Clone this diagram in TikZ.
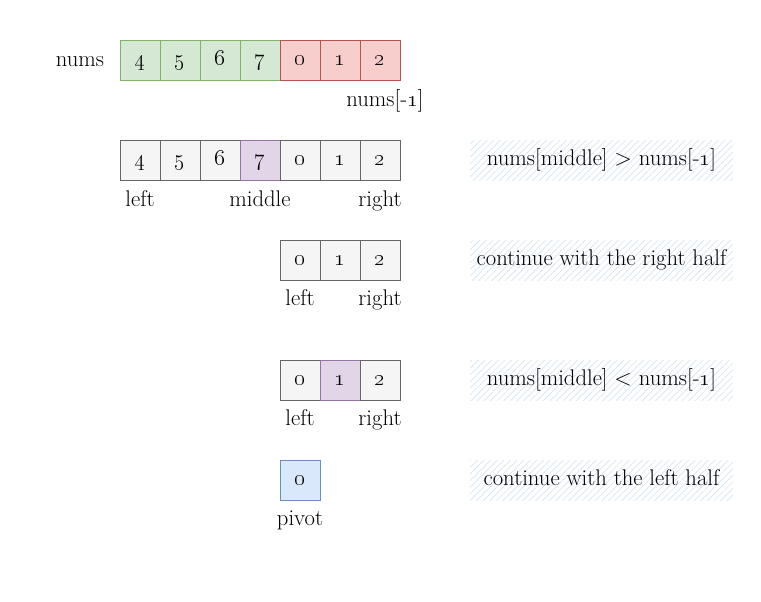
\documentclass[tikz,border=0pt]{standalone}
\usepackage{amsmath}
\usepackage{xcolor}
\usetikzlibrary{patterns.meta}

\definecolor{greenfill}{HTML}{D5E8D4}
\definecolor{greenline}{HTML}{82B366}
\definecolor{redfill}{HTML}{F8CECC}
\definecolor{redline}{HTML}{B85450}
\definecolor{greyfill}{HTML}{F5F5F5}
\definecolor{greyline}{HTML}{666666}
\definecolor{purplefill}{HTML}{E1D5E7}
\definecolor{purpleline}{HTML}{9673A6}
\definecolor{bluefill}{HTML}{DAE8FC}
\definecolor{blueline}{HTML}{6C8EBF}
\definecolor{hatch}{HTML}{D4E3F7}

\newcommand{\od}[1]{\oldstylenums{#1}}

\begin{document}
\begin{tikzpicture}[x=0.75pt, y=-0.75pt,
  every node/.style={font=\fontsize{17}{20}\selectfont, text height=2.1ex, text depth=0.2ex},
  cell/.style={draw, line width=0.75pt, minimum width=30pt, minimum height=30pt, inner sep=0pt},
  grn/.style={cell, fill=greenfill, draw=greenline},
  rd/.style={cell, fill=redfill, draw=redline},
  gry/.style={cell, fill=greyfill, draw=greyline},
  prp/.style={cell, fill=purplefill, draw=purpleline},
  blu/.style={cell, fill=bluefill, draw=blueline},
  note/.style={minimum width=197pt, minimum height=30pt, inner sep=0pt,
    pattern={Lines[angle=45, distance=3.5pt, line width=0.5pt]}, pattern color=hatch}]
\useasboundingbox (0,0) rectangle (761,601);

% row 1: the array
\node (numslbl) at (80,61) {nums};
\foreach \v [count=\i] in {4,5,6,7} {
  \node[grn] (a\i) at (100+40*\i,60) {\od{\v}};
}
\foreach \v [count=\i from 5] in {0,1,2} {
  \node[rd] (a\i) at (100+40*\i,60) {\od{\v}};
}
\node (last) at (385,101) {nums[-\od{1}]};

% row 2
\foreach \v [count=\i] in {4,5,6} {
  \node[gry] (b\i) at (100+40*\i,160) {\od{\v}};
}
\node[prp] (b4) at (260,160) {\od{7}};
\foreach \v [count=\i from 5] in {0,1,2} {
  \node[gry] (b\i) at (100+40*\i,160) {\od{\v}};
}
\node (bleft) at (140,201) {left};
\node (bmid) at (260,201) {middle};
\node (bright) at (380,201) {right};
\node[note] (n1) at (601.5,160.5) {nums[middle] $>$ nums[-\od{1}]};

% row 3
\foreach \v [count=\i] in {0,1,2} {
  \node[gry] (c\i) at (260+40*\i,260) {\od{\v}};
}
\node (cleft) at (300,300) {left};
\node (cright) at (380,300) {right};
\node[note] (n2) at (601.5,260) {continue with the right half};

% row 4
\node[gry] (d1) at (300,380) {\od{0}};
\node[prp] (d2) at (340,380) {\od{1}};
\node[gry] (d3) at (380,380) {\od{2}};
\node (dleft) at (300,420) {left};
\node (dright) at (380,420) {right};
\node[note] (n3) at (601.5,380) {nums[middle] $<$ nums[-\od{1}]};

% row 5
\node[blu] (e1) at (300,480) {\od{0}};
\node (pivot) at (300,520) {pivot};
\node[note] (n4) at (601.5,480) {continue with the left half};
\end{tikzpicture}
\end{document}
